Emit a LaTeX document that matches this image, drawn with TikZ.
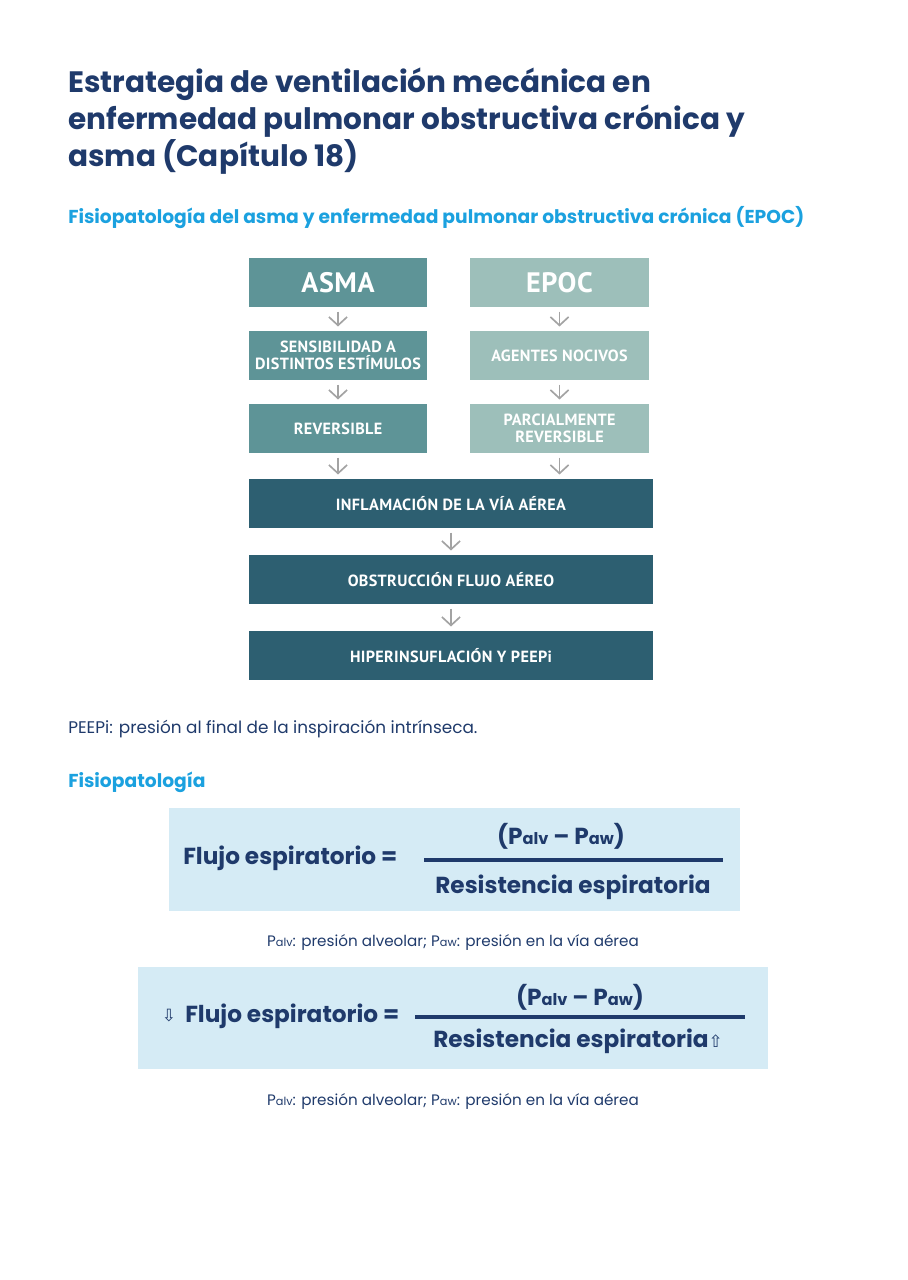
\documentclass[tikz,border=0pt]{standalone}
\usepackage{fontspec}
\setmainfont{Poppins}
\newfontfamily\boxfont[LetterSpace=2]{PT Sans}
\newfontfamily\sym{DejaVu Sans}
\usetikzlibrary{arrows.meta}
\definecolor{navy}{HTML}{1F3A6B}
\definecolor{skyb}{HTML}{1BA1DF}
\definecolor{asmac}{HTML}{5E9497}
\definecolor{epocc}{HTML}{9DBFBA}
\definecolor{darkb}{HTML}{2D5F71}
\definecolor{arrg}{HTML}{A3A3A3}
\definecolor{formb}{HTML}{D5EBF5}
\tikzset{
box/.style={minimum width=4.45cm,minimum height=1.225cm,inner sep=0pt,align=center,text=white,font=\boxfont\bfseries\fontsize{11.5}{12.5}\selectfont},
wide/.style={box,minimum width=10.1cm,fill=darkb},
arr/.style={draw=arrg,line width=1.2pt,-{Straight Barb[length=6pt,width=13pt]},shorten <=3pt,shorten >=3pt},
formtxt/.style={text=navy,font=\bfseries\fontsize{16.5}{18}\selectfont,inner sep=0pt}
}
\begin{document}
\begin{tikzpicture}[x=0.025cm,y=-0.025cm]
\useasboundingbox (0,0) rectangle (907,1280);

\node[anchor=north west,text=navy,align=left,font=\bfseries\fontsize{21}{26.3}\selectfont,inner sep=0pt] (title) at (68,68)
{Estrategia de ventilación mecánica en\\enfermedad pulmonar obstructiva crónica y\\asma (Capítulo 18)};
\node[anchor=base west,text=skyb,font=\bfseries\fontsize{13.3}{15}\selectfont,inner sep=0pt] (sub1) at (68,224)
{Fisiopatología del asma y enfermedad pulmonar obstructiva crónica (EPOC)};

\node[box,fill=asmac,font=\boxfont\bfseries\fontsize{20}{22}\selectfont] (asma) at (338,282.5) {ASMA};
\node[box,fill=asmac] (sens) at (338,355.5) {SENSIBILIDAD A\\DISTINTOS ESTÍMULOS};
\node[box,fill=asmac] (rev) at (338,428.5) {REVERSIBLE};
\node[box,fill=epocc,font=\boxfont\bfseries\fontsize{20}{22}\selectfont] (epoc) at (559.5,282.5) {EPOC};
\node[box,fill=epocc] (agen) at (559.5,355.5) {AGENTES NOCIVOS};
\node[box,fill=epocc] (parc) at (559.5,428.5) {PARCIALMENTE\\REVERSIBLE};
\node[wide] (infl) at (451,503.5) {INFLAMACIÓN DE LA VÍA AÉREA};
\node[wide] (obst) at (451,579.5) {OBSTRUCCIÓN FLUJO AÉREO};
\node[wide] (hiper) at (451,655.5) {HIPERINSUFLACIÓN Y PEEPi};

\draw[arr] (asma) -- (sens);
\draw[arr] (sens) -- (rev);
\draw[arr] (epoc) -- (agen);
\draw[arr] (agen) -- (parc);
\draw[arr] (rev.south) -- (rev.south |- infl.north);
\draw[arr] (parc.south) -- (parc.south |- infl.north);
\draw[arr] (infl) -- (obst);
\draw[arr] (obst) -- (hiper);

\node[anchor=base west,text=navy,font=\fontsize{12}{14}\selectfont,inner sep=0pt] (peep) at (68,733)
{PEEPi: presión al final de la inspiración intrínseca.};
\node[anchor=base west,text=skyb,font=\bfseries\fontsize{13.3}{15}\selectfont,inner sep=0pt] (sub2) at (68,787) {Fisiopatología};

% primera formula
\fill[formb] (169,808) rectangle (740,911);
\node[formtxt,anchor=west] (f1) at (183,858) {Flujo espiratorio =};
\coordinate (b1l) at (424,860);
\coordinate (b1r) at (723,860);
\draw[navy,line width=2.2pt] (b1l) -- (b1r);
\node[formtxt] (n1) at (561,836) {(P{\fontsize{11.5}{12}\selectfont alv} – P{\fontsize{11.5}{12}\selectfont aw})};
\node[formtxt] (d1) at (573,887) {Resistencia espiratoria};
\node[text=navy,font=\fontsize{10.8}{12}\selectfont,inner sep=0pt] (c1) at (453,942)
{P{\fontsize{8}{9}\selectfont alv}: presión alveolar; P{\fontsize{8}{9}\selectfont aw}: presión en la vía aérea};

% segunda formula
\fill[formb] (138,967) rectangle (768,1069);
\node[text=navy,font=\sym\fontsize{12}{13}\selectfont,inner sep=0pt] (dn) at (169,1016) {⇩};
\node[formtxt,anchor=west] (f2) at (185,1016) {Flujo espiratorio =};
\coordinate (b2l) at (415,1017);
\coordinate (b2r) at (745,1017);
\draw[navy,line width=2.2pt] (b2l) -- (b2r);
\node[formtxt] (n2) at (580,997) {(P{\fontsize{11.5}{12}\selectfont alv} – P{\fontsize{11.5}{12}\selectfont aw})};
\node[formtxt] (d2) at (578,1041) {Resistencia espiratoria{\sym\mdseries\fontsize{12}{13}\selectfont ⇧}};
\node[text=navy,font=\fontsize{10.8}{12}\selectfont,inner sep=0pt] (c2) at (453,1101)
{P{\fontsize{8}{9}\selectfont alv}: presión alveolar; P{\fontsize{8}{9}\selectfont aw}: presión en la vía aérea};
\end{tikzpicture}
\end{document}
